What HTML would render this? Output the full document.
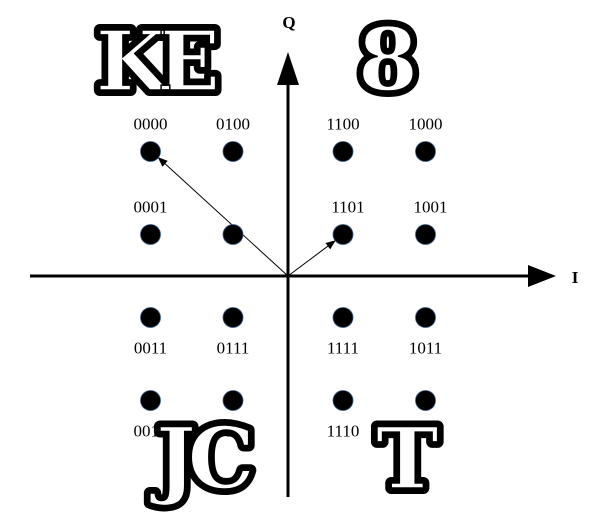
<!DOCTYPE html>
<html><head><meta charset="utf-8"><style>
body{margin:0;background:#fff;width:596px;height:520px;overflow:hidden}
svg{display:block}
.lbl{font-family:"Liberation Serif",serif;font-size:17px;fill:#000}
.big{font-family:"DejaVu Serif","Liberation Serif",serif;font-weight:bold;stroke:#000;stroke-width:12;stroke-linejoin:round;paint-order:stroke;fill:#fff}
.big2{font-family:"DejaVu Serif","Liberation Serif",serif;font-weight:bold;fill:none;stroke:#000;stroke-width:1.5}
</style></head><body>
<svg id="chart" width="596" height="520">
<defs><marker id="ah" markerWidth="10" markerHeight="8" refX="9" refY="4" orient="auto"><path d="M0,0L10,4L0,8z" fill="#000"/></marker></defs>
<g id="axes"></g><g id="marks"></g><g id="overlay"></g>
</svg>
<script>
const iVals=[-2.5,-1,1,2.5,-2.5,-1,1,2.5,-2.5,-1,1,2.5,-2.5,-1,1,2.5];
const qVals=[3,3,3,3,1,1,1,1,-1,-1,-1,-1,-3,-3,-3,-3];
const codes=["0000","0100","1100","1000","0001","0101","1101","1001","0011","0111","1111","1011","0010","0110","1110","1010"];
const vectorI=[-2.5,1];
const vectorQ=[3,1];
const ox=288,oy=276;
function xs(v){return ox+v*55;}
function ys(v){return oy-v*41.5;}
const NS="http://www.w3.org/2000/svg";
function mk(t,a,p){const e=document.createElementNS(NS,t);for(const k in a)e.setAttribute(k,a[k]);p.appendChild(e);return e;}
const ax=document.getElementById('axes'),mg=document.getElementById('marks'),ov=document.getElementById('overlay');
let h=mk('line',{x1:30,y1:oy,x2:552,y2:oy,stroke:'#000','stroke-width':3},ax);

let hp=mk('path',{d:'M528,265L556,276L528,287z',fill:'#000'},ax);

let v=mk('line',{x1:ox,y1:497,x2:ox,y2:80,stroke:'#000','stroke-width':3},ax);

let vp=mk('path',{d:'M277,85L288,52L299,85z',fill:'#000'},ax);

let qt=mk('text',{x:289,y:28,'text-anchor':'middle',style:'font-family:Liberation Serif,serif;font-weight:bold;font-size:17px'},ax);qt.textContent='Q';

let it=mk('text',{x:575,y:283,'text-anchor':'middle',style:'font-family:Liberation Serif,serif;font-weight:bold;font-size:17px'},ax);it.textContent='I';

for(let k=0;k<vectorI.length;k++){
 let l=mk('line',{x1:ox,y1:oy,x2:xs(vectorI[k])+(vectorI[k]<0?8:-8),y2:ys(vectorQ[k])+(vectorQ[k]>0?7:-7)*0.9,stroke:'#000','stroke-width':1,'marker-end':'url(#ah)'},mg);
 
}
for(let k=0;k<codes.length;k++){
 const cx=xs(iVals[k]),cy=ys(qVals[k]);
 let c=mk('circle',{cx:cx,cy:cy,r:10,fill:'#000',stroke:'#3a5a80','stroke-width':0.8},mg);
 
 if(codes[k]==='0101')continue;
 const ly=qVals[k]>0?cy-22:cy+36;
 const lx=(qVals[k]===1&&iVals[k]>0)?cx+5:cx;
 let t=mk('text',{x:lx,y:ly,'text-anchor':'middle',class:'lbl'},mg);t.textContent=codes[k];
 
}
function big(txt,x,y,size,name,ls){
 const g=mk('g',{},ov);
 let a=mk('text',{x:x,y:y,class:'big','font-size':size,'letter-spacing':ls},g);a.textContent=txt;
 let b=mk('text',{x:x,y:y,class:'big2','font-size':size,'letter-spacing':ls},g);b.textContent=txt;
}
big('KE',96,90,82,'watermark-ke',-10);
big('8',358,90,86,'watermark-8',0);
big('JC',156,488,84,'watermark-jc',-8);
big('T',376,488,84,'watermark-t',0);
</script>
</body></html>
